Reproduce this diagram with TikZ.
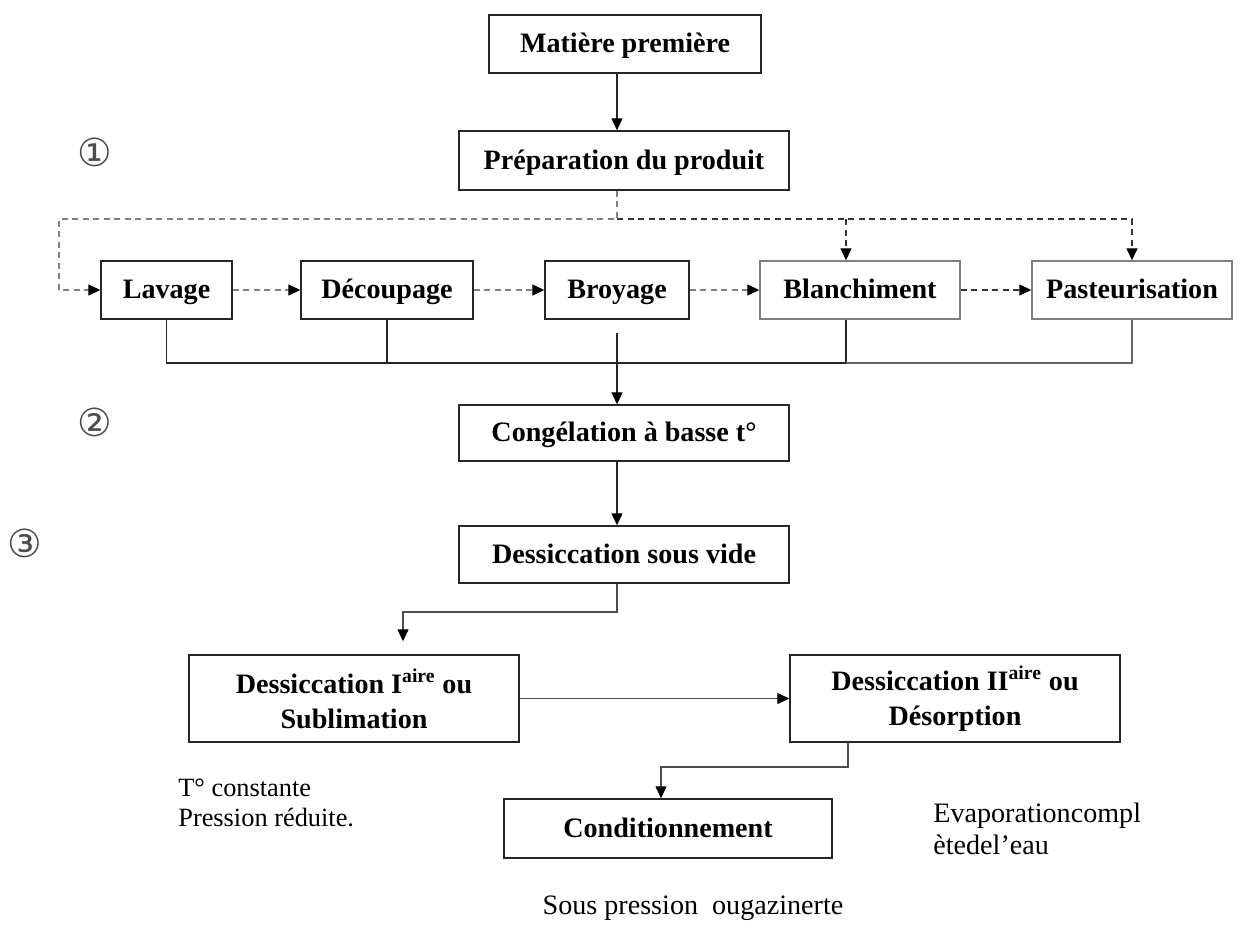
\documentclass[tikz,border=0pt]{standalone}
\usepackage{fontspec}
\setmainfont{Liberation Serif}
\newfontfamily\circfont{DejaVu Sans}
\usetikzlibrary{arrows.meta}

\begin{document}
\begin{tikzpicture}[
  >={Triangle[length=2.4mm, width=2.2mm, color=black]},
  box/.style={draw=black!85, line width=0.8pt, inner sep=2pt, align=center,
    font=\fontsize{16}{20}\selectfont\bfseries},
  onebox/.style={box, text height=12pt, text depth=2pt},
  greybox/.style={onebox, draw=black!50},
  link/.style={draw=black!85, line width=0.7pt},
  arr/.style={link, ->},
  dasharr/.style={->, draw=black!50, line width=0.7pt, dash pattern=on 1.2mm off 0.9mm},
  note/.style={font=\fontsize{16}{17}\selectfont, align=left, inner sep=0pt},
  stage/.style={font=\circfont\fontsize{22}{22}\selectfont, text=black!70}
]
\useasboundingbox (0,0) rectangle (24.8,-18.84);

% main line
\node[onebox, minimum width=5.44cm, minimum height=1.16cm] (mat) at (12.50,-0.88) {Matière première};
\node[onebox, minimum width=6.60cm, minimum height=1.18cm] (prep) at (12.48,-3.21) {Préparation du produit};

\node[onebox, minimum width=2.62cm, minimum height=1.16cm] (lav) at (3.33,-5.80) {Lavage};
\node[onebox, minimum width=3.44cm, minimum height=1.16cm] (dec) at (7.74,-5.80) {Découpage};
\node[onebox, minimum width=2.88cm, minimum height=1.16cm] (broy) at (12.34,-5.80) {Broyage};
\node[greybox, minimum width=4.00cm, minimum height=1.16cm] (blan) at (17.20,-5.80) {Blanchiment};
\node[greybox, minimum width=4.00cm, minimum height=1.16cm] (past) at (22.64,-5.80) {Pasteurisation};

\node[onebox, minimum width=6.60cm, minimum height=1.12cm] (cong) at (12.48,-8.66) {Congélation à basse t°};
\node[onebox, minimum width=6.60cm, minimum height=1.14cm] (vide) at (12.48,-11.09) {Dessiccation sous vide};
\node[box, minimum width=6.60cm, minimum height=1.74cm] (sub) at (7.08,-13.97) {Dessiccation I\textsuperscript{aire} ou\\Sublimation};
\node[box, minimum width=6.60cm, minimum height=1.74cm] (des) at (19.10,-13.97) {Dessiccation II\textsuperscript{aire} ou\\Désorption};
\node[onebox, minimum width=6.56cm, minimum height=1.18cm] (cond) at (13.36,-16.57) {Conditionnement};

% stage numbers and notes
\node[stage] (n1) at (1.90,-3.04) {①};
\node[stage] (n2) at (1.90,-8.44) {②};
\node[stage] (n3) at (0.50,-10.86) {③};
\node[note, anchor=west, font=\fontsize{15}{17}\selectfont] (tcst) at (3.56,-16.06) {T° constante\\Pression réduite.};
\node[note, anchor=west, font=\fontsize{16}{18}\selectfont] (evap) at (18.66,-16.58) {Evaporationcompl\\ètedel’eau};
\node[note] (gaz) at (13.86,-18.16) {Sous pression\ \ ougazinerte};

\coordinate (split) at (12.34,-4.38);
\coordinate (lc) at (1.18,-4.38);
\coordinate (bj) at (16.92,-4.38);
\coordinate (bus) at (12.34,-7.26);
\coordinate (bt) at (12.34,-6.66);
\coordinate (k1) at (8.06,-12.24);
\coordinate (k2) at (16.96,-15.34);
\coordinate (k3) at (13.22,-15.34);

\draw[arr] (bt |- mat.south) -- (bt |- prep.north);

% dashed options
\draw[dasharr] (prep.south -| split) -- (split) -- (lc) |- (lav.west);
\draw[dasharr, draw=black!80] (split) -| (past.north);
\draw[dasharr, draw=black!80] (bj) -- (bj |- blan.north);
\draw[dasharr] (lav.east) -- (dec.west);
\draw[dasharr] (dec.east) -- (broy.west);
\draw[dasharr] (broy.east) -- (blan.west);
\draw[dasharr, draw=black!80] (blan.east) -- (past.west);

% collecting line
\draw[link] (lav.south) |- (bj |- bus) -- (bj |- blan.south);
\draw[link, draw=black!60] (bj |- bus) -| (past.south);
\draw[link] (dec.south) -- (dec.south |- bus);
\draw[arr] (bt) -- (bt |- cong.north);
\draw[arr] (bt |- cong.south) -- (bt |- vide.north);

\draw[arr, draw=black!70] (bt |- vide.south) |- (k1) -- (k1 |- sub.north) [shorten >=0.26cm];
\draw[arr, draw=black!70] (sub.east) -- (des.west);
\draw[arr, draw=black!70] (k2 |- des.south) -- (k2) -- (k3) -- (k3 |- cond.north);
\end{tikzpicture}
\end{document}
